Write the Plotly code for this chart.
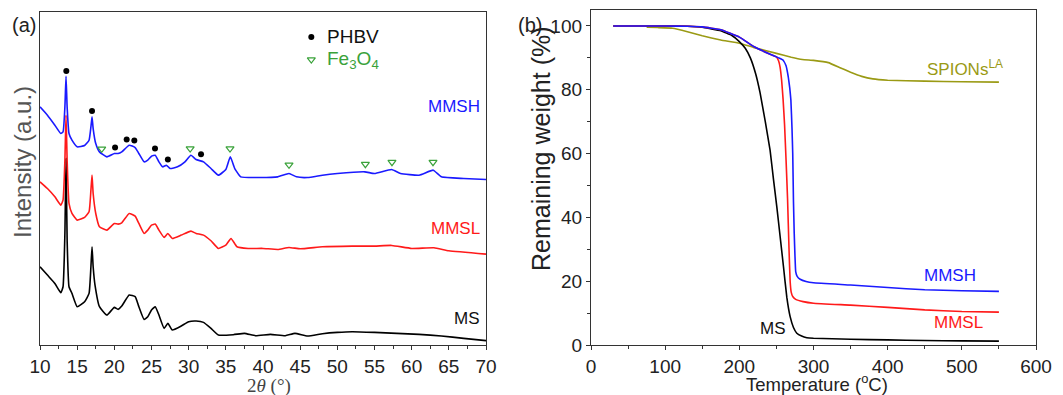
import plotly.graph_objects as go

# ---------------- Panel (a): XRD ----------------
tt_ms = [10, 11, 12, 12.8, 13.1, 13.35, 13.5, 13.65, 13.9, 14.3, 15, 16, 16.6, 16.85, 17.0, 17.15, 17.4, 18, 19, 20,
         20.5, 21, 22, 22.8, 23.3, 24, 24.5, 25, 25.5, 26, 26.7, 27.2, 27.8, 29, 30, 31, 32, 33, 34, 36, 37.5, 39,
         41, 43, 44.3, 46, 48, 50, 52, 55, 58, 61, 64, 67, 70]
int_ms = [23.5, 21, 18.5, 15.7, 17.5, 33.5, 56, 31.5, 17.5, 15.5, 11.5, 13, 15.5, 23.5, 29.5, 23.5, 18, 11.5, 9, 11.3,
          10.7, 11.7, 15, 14.5, 11.5, 7.7, 8.5, 10.5, 11.5, 9, 5, 6.5, 4.5, 5.7, 7, 7.2, 6.8, 5, 3, 3.1, 3.5, 2.8,
          3.2, 2.8, 3.5, 2.7, 3.4, 3.8, 4, 3.8, 3.5, 3.2, 2.7, 2, 1.3]

tt_mmsl = [10, 11, 12, 12.8, 13.1, 13.35, 13.5, 13.65, 13.9, 14.3, 15, 16, 16.6, 16.85, 17.0, 17.15, 17.5, 18, 19, 20,
           20.5, 21, 22, 22.8, 23.3, 24, 24.5, 25, 25.5, 26, 26.7, 27.2, 27.8, 29, 30.3, 31, 32, 33, 34, 35, 35.7,
           36.5, 38, 40, 42, 43.5, 45, 48, 52, 55, 57.3, 60, 63, 65, 70]
int_mmsl = [49, 47, 44.5, 42, 43.5, 55.5, 69, 55.5, 42.5, 39.5, 37.5, 38.3, 40, 46.5, 51, 45.5, 39.5, 35.5, 34.5, 36.5,
            36.3, 36.7, 39.5, 38.7, 36.5, 33.5, 34.5, 36, 36.3, 34.5, 32.3, 33.5, 32, 33, 34.2, 33.5, 33, 31.3, 29,
            30, 32, 29.5, 29, 29, 28.7, 29.3, 28.9, 29.5, 29.7, 29.7, 29.9, 29, 29.2, 28.3, 27.3]

tt_mmsh = [10, 11, 12, 12.8, 13.1, 13.35, 13.5, 13.65, 13.9, 14.3, 15, 16, 16.6, 16.85, 17.0, 17.15, 17.5, 18, 19, 20,
           20.5, 21, 22, 22.8, 23.3, 24, 24.5, 25, 25.5, 26, 26.5, 27, 27.5, 28.5, 29.5, 30.3, 31, 32, 33, 34, 35,
           35.6, 36.2, 37, 39, 42, 43.5, 44.5, 46, 48, 50, 53.7, 55, 57.3, 58.5, 61, 62.9, 64, 67, 70]
int_mmsh = [71.5, 69, 66, 63.5, 64, 71.5, 80.7, 71.5, 63.5, 61.5, 59.5, 59.9, 61.5, 65.5, 68.5, 65, 60.5, 58, 56.5,
            57.5, 57.5, 58, 60, 59.3, 57.5, 55, 55.5, 56.7, 57, 55, 53.5, 54, 53, 53.5, 55, 57, 55.7, 55, 53, 51,
            52.7, 56.5, 53, 50.5, 50.3, 50.5, 51.5, 50.5, 50.3, 51, 51.5, 52, 51.5, 52.7, 51.5, 51, 52.5, 50.5, 50,
            49.7]

phbv_x = [13.54, 17.0, 20.1, 21.66, 22.69, 25.47, 27.2, 31.66]
phbv_y = [82.3, 70.3, 59.3, 61.7, 61.4, 59.0, 55.7, 57.3]
fe3o4_x = [18.3, 30.2, 35.56, 43.5, 53.77, 57.35, 62.87]
fe3o4_y = [58.9, 59.0, 59.0, 54.1, 54.3, 54.9, 54.9]

# ---------------- Panel (b): TGA ----------------
temp_ms = [30, 100, 130, 150, 175, 190, 200, 208, 215, 222, 228, 235, 241.5, 246, 250.5, 255, 259.5, 264, 268.5, 273,
           277.5, 284, 291, 300, 350, 400, 450, 500, 550]
wt_ms = [100, 100, 99.9, 99.6, 98.5, 97, 95.1, 93, 89.9, 85, 79, 70, 61, 52, 43.4, 34, 24.6, 15, 8.9, 5.5,
         3.7, 2.8, 2.3, 2.1, 1.8, 1.6, 1.4, 1.3, 1.2]

temp_mmsl = [30, 100, 130, 150, 175, 200, 220, 240, 250, 253, 255, 257, 259, 261, 263, 265, 267, 268.5, 270, 272, 276,
             286, 300, 350, 400, 450, 500, 550]
wt_mmsl = [100, 100, 99.9, 99.7, 98.8, 96.5, 93.5, 91.3, 90.3, 89, 87, 83, 77, 69, 58, 46, 30, 20, 16.5, 15.2, 14.3,
           13.6, 13.1, 12.5, 11.8, 11, 10.5, 10.3]

temp_mmsh = [30, 100, 130, 150, 175, 200, 220, 240, 253, 259, 263, 266, 268, 269.5, 271, 272, 273, 274, 275, 276, 278,
             282, 290, 300, 350, 400, 450, 500, 550]
wt_mmsh = [100, 100, 99.9, 99.7, 98.8, 96.5, 93.5, 91.3, 90, 89.3, 87.5, 84, 80.5, 76.8, 68, 60, 45, 35, 28, 23, 21.5,
           20.6, 19.9, 19.5, 18.8, 18, 17.3, 17, 16.8]

temp_spions = [75, 90, 110, 130, 150, 175, 200, 220, 250, 270, 285, 300, 320, 335, 350, 365, 380, 400, 450, 500, 550]
wt_spions = [99.6, 99.5, 99.3, 98.2, 96.9, 95.6, 94.6, 93.2, 91.4, 90.2, 89.5, 89.2, 88.5, 87, 85.5, 84.2, 83.4, 83.0,
             82.7, 82.5, 82.4]

BLACK = "#000000"
RED = "#ff1a1a"
BLUE = "#1a1aff"
OLIVE = "#9a9a14"
GREEN = "#3aa23a"
AX = "#333333"
FONT = "Liberation Sans, Arial, sans-serif"

OFF = 8  # page body margin
W, H = 1063 - OFF, 395 - OFF


def px(x):
    return (x - OFF) / W


def py(y):
    return 1 - (y - OFF) / H


fig = go.Figure()

lw = 1.6
for xs, ys, c in [(tt_ms, int_ms, BLACK), (tt_mmsl, int_mmsl, RED), (tt_mmsh, int_mmsh, BLUE)]:
    fig.add_trace(go.Scatter(x=xs, y=ys, mode="lines", line=dict(color=c, width=lw, shape="spline", smoothing=0.4),
                             xaxis="x", yaxis="y"))
fig.add_trace(go.Scatter(x=phbv_x, y=phbv_y, mode="markers", marker=dict(color=BLACK, size=6, symbol="circle"),
                         xaxis="x", yaxis="y"))
fig.add_trace(go.Scatter(x=fe3o4_x, y=fe3o4_y, mode="markers",
                         marker=dict(color=GREEN, size=7, symbol="triangle-down-open", line=dict(width=1.2)),
                         xaxis="x", yaxis="y"))
# legend symbols
fig.add_trace(go.Scatter(x=[46.5], y=[92.5], mode="markers", marker=dict(color=BLACK, size=6, symbol="circle"),
                         xaxis="x", yaxis="y"))
fig.add_trace(go.Scatter(x=[46.5], y=[85.7], mode="markers",
                         marker=dict(color=GREEN, size=7, symbol="triangle-down-open", line=dict(width=1.2)),
                         xaxis="x", yaxis="y"))

for xs, ys, c in [(temp_spions, wt_spions, OLIVE), (temp_ms, wt_ms, BLACK), (temp_mmsl, wt_mmsl, RED),
                  (temp_mmsh, wt_mmsh, BLUE)]:
    fig.add_trace(go.Scatter(x=xs, y=ys, mode="lines", line=dict(color=c, width=lw, shape="spline", smoothing=0.3),
                             xaxis="x2", yaxis="y2"))

axis_common = dict(showline=True, linecolor=AX, linewidth=1.3, mirror=True, showgrid=False, zeroline=False,
                   ticks="outside", ticklen=4, tickwidth=1.2, tickcolor=AX, automargin=False,
                   tickfont=dict(family=FONT, size=19, color="#222222"))

fig.update_layout(
    width=W, height=H, margin=dict(l=0, r=0, t=0, b=0, autoexpand=False),
    paper_bgcolor="white", plot_bgcolor="white", showlegend=False,
    xaxis=dict(domain=[px(40), px(486)], range=[10, 70], dtick=5, anchor="y",
               minor=dict(dtick=2.5, ticks="outside", ticklen=3, tickcolor=AX), **axis_common),
    yaxis=dict(domain=[py(345), py(12)], range=[0, 100], anchor="x", showline=True, linecolor=AX, linewidth=1.3,
               mirror=True, showgrid=False, zeroline=False, showticklabels=False, ticks="", automargin=False),
    xaxis2=dict(domain=[px(591), px(1036)], range=[0, 600], dtick=100, anchor="y2",
                minor=dict(dtick=50, ticks="outside", ticklen=3, tickcolor=AX), **axis_common),
    yaxis2=dict(domain=[py(345), py(10)], range=[0, 105], tickvals=[0, 20, 40, 60, 80, 100], anchor="x2",
                minor=dict(dtick=10, ticks="outside", ticklen=3, tickcolor=AX), **axis_common),
)

ann = []


def add(text, x, y, size=19, color="#222222", xanchor="center", yanchor="middle", textangle=0, family=FONT,
        xref="paper", yref="paper"):
    ann.append(dict(text=text, x=x, y=y, xref=xref, yref=yref, showarrow=False, xanchor=xanchor, yanchor=yanchor,
                    textangle=textangle, font=dict(size=size, color=color, family=family)))


add("(a)", px(24), py(25), size=20)
add("(b)", px(530), py(25), size=20)
add("2<i>θ</i> (°)", px(269), py(385.5), size=19, color="#444444", family="Liberation Serif, DejaVu Serif, serif")
add("Temperature (<sup>o</sup>C)", px(817), py(382.5), size=18.5)
add("Intensity (a.u.)", px(22), py(162), size=24, color="#555555", textangle=-90)
add("Remaining weight (%)", px(541), py(149), size=25, textangle=-90)

add("PHBV", 48.3, 92.5, size=19, color="#111111", xanchor="left", xref="x", yref="y")
add("Fe<sub>3</sub>O<sub>4</sub>", 48.3, 85.7, size=19, color=GREEN, xanchor="left", xref="x", yref="y")
add("MMSH", 69.5, 71.5, size=17, color=BLUE, xanchor="right", xref="x", yref="y")
add("MMSL", 69.5, 35.1, size=17, color=RED, xanchor="right", xref="x", yref="y")
add("MS", 69.5, 8.1, size=17, color="#111111", xanchor="right", xref="x", yref="y")

add("SPIONs<sup>LA</sup>", 558, 86.8, size=17, color=OLIVE, xanchor="right", xref="x2", yref="y2")
add("MMSH", 522, 21.9, size=17, color=BLUE, xanchor="right", xref="x2", yref="y2")
add("MMSL", 531, 7.0, size=17, color=RED, xanchor="right", xref="x2", yref="y2")
add("MS", 265, 5.3, size=17, color="#111111", xanchor="right", xref="x2", yref="y2")

fig.update_layout(annotations=ann)
fig.write_html("out.html")
